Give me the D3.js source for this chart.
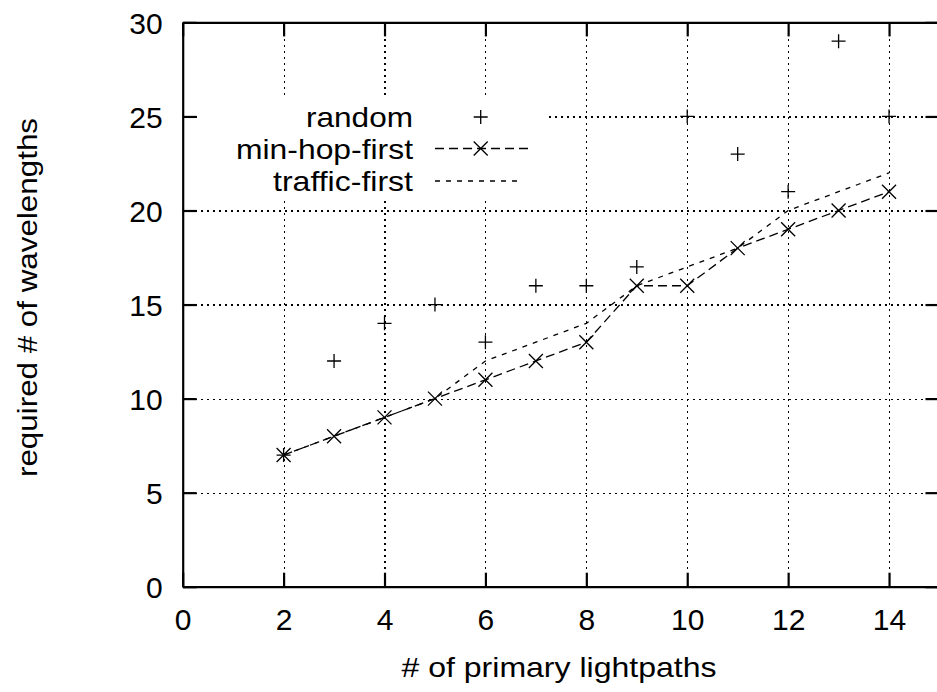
<!DOCTYPE html>
<html>
<head>
<meta charset="utf-8">
<script src="https://cdn.jsdelivr.net/npm/d3@7"></script>
<style>
  html, body { margin: 0; padding: 0; background: #fff; }
  svg { display: block; }
  text { font-family: "Liberation Sans", Arial, Helvetica, sans-serif; fill: #000; }
</style>
</head>
<body>
<svg id="chart" width="937" height="692"></svg>
<script>
// x: number of primary lightpaths
const lightpaths = [2, 3, 4, 5, 6, 7, 8, 9, 10, 11, 12, 13, 14];
// required number of wavelengths per heuristic
const randomVals      = [7, 12, 14, 15, 13, 16, 16, 17, 25, 23, 21, 29, 25];
const minHopFirstVals = [7, 8, 9, 10, 11, 12, 13, 16, 16, 18, 19, 20, 21];
const trafficFirstVals = [7, 8, 9, 10, 12, 13, 14, 16, 17, 18, 20, 21, 22];

const xTicks = [0, 2, 4, 6, 8, 10, 12, 14];
const yTicks = [0, 5, 10, 15, 20, 25, 30];
const seriesNames = ["random", "min-hop-first", "traffic-first"];

const svg = d3.select("#chart");
const plotLeft = 182.7, plotRight = 939.5, plotTop = 22.4, plotBottom = 586.7;

const x = d3.scaleLinear().domain([0, 15]).range([plotLeft, plotRight]);
const y = d3.scaleLinear().domain([0, 30]).range([plotBottom, plotTop]);

// dotted grid
const grid = svg.append("g").attr("class", "grid");
grid.append("g")
  .attr("transform", `translate(0,${plotBottom})`)
  .call(d3.axisBottom(x).tickValues(xTicks.filter(d => d > 0)).tickSize(-(plotBottom - plotTop)).tickFormat(""))
  .call(g => g.select(".domain").remove());
grid.append("g")
  .attr("transform", `translate(${plotLeft},0)`)
  .call(d3.axisLeft(y).tickValues(yTicks.filter(d => d > 0 && d < 30)).tickSize(-(plotRight - plotLeft)).tickFormat(""))
  .call(g => g.select(".domain").remove());
grid.selectAll("line")
  .attr("stroke", "#000").attr("stroke-width", 1.1)
  .attr("stroke-dasharray", "2,4").attr("shape-rendering", "crispEdges");

// key area clears the grid behind it
svg.append("rect")
  .attr("x", 200).attr("y", 99).attr("width", 347).attr("height", 101)
  .attr("fill", "#fff");

// border and tick marks (inward, mirrored on top and right)
const tickLen = 14;
const axes = svg.append("g").attr("class", "axes");
const xb = axes.append("g").attr("transform", `translate(0,${plotBottom})`)
  .call(d3.axisBottom(x).tickValues(xTicks).tickSize(-tickLen).tickSizeOuter(0).tickPadding(22));
axes.append("g").attr("transform", `translate(0,${plotTop})`)
  .call(d3.axisTop(x).tickValues(xTicks).tickSize(-tickLen).tickSizeOuter(0).tickFormat(""));
const yl = axes.append("g").attr("transform", `translate(${plotLeft},0)`)
  .call(d3.axisLeft(y).tickValues(yTicks).tickSize(-tickLen).tickSizeOuter(0).tickPadding(20));
axes.append("g").attr("transform", `translate(${plotRight},0)`)
  .call(d3.axisRight(y).tickValues(yTicks).tickSize(-tickLen).tickSizeOuter(0).tickFormat(""));
axes.selectAll(".domain").attr("stroke", "#000").attr("stroke-width", 2.2);
axes.selectAll(".tick line").attr("stroke", "#000").attr("stroke-width", 2.2);
axes.selectAll(".tick text")
  .attr("font-family", "'Liberation Sans', Arial, sans-serif")
  .attr("font-size", 30).attr("fill", "#000");
xb.selectAll(".tick text").attr("dy", "0.72em");
yl.selectAll(".tick text").attr("dy", "0.36em");

// axis titles
svg.append("text")
  .attr("x", 559).attr("y", 677)
  .attr("text-anchor", "middle").attr("font-size", 28)
  .attr("textLength", 315).attr("lengthAdjust", "spacingAndGlyphs")
  .text("# of primary lightpaths");
svg.append("text")
  .attr("transform", "translate(37,297.5) rotate(-90)")
  .attr("text-anchor", "middle").attr("font-size", 28)
  .attr("textLength", 359).attr("lengthAdjust", "spacingAndGlyphs")
  .text("required # of wavelengths");

// series lines
const pts = vals => lightpaths.map((d, i) => [x(d), y(vals[i])]);
const line = d3.line();
svg.append("path")
  .attr("d", line(pts(trafficFirstVals)))
  .attr("fill", "none").attr("stroke", "#000").attr("stroke-width", 1.3)
  .attr("stroke-dasharray", "5,6");
svg.append("path")
  .attr("d", line(pts(minHopFirstVals)))
  .attr("fill", "none").attr("stroke", "#000").attr("stroke-width", 1.3)
  .attr("stroke-dasharray", "9,5");

// point symbols
const ms = 7;
const plusPath = (cx, cy) => `M${cx - ms},${cy}H${cx + ms}M${cx},${cy - ms}V${cy + ms}`;
const crossPath = (cx, cy) => `M${cx - ms},${cy - ms}L${cx + ms},${cy + ms}M${cx - ms},${cy + ms}L${cx + ms},${cy - ms}`;
svg.append("g").selectAll("path")
  .data(pts(randomVals)).join("path")
  .attr("d", d => plusPath(d[0], d[1]))
  .attr("stroke", "#000").attr("stroke-width", 1.3).attr("fill", "none");
svg.append("g").selectAll("path")
  .data(pts(minHopFirstVals)).join("path")
  .attr("d", d => crossPath(d[0], d[1]))
  .attr("stroke", "#000").attr("stroke-width", 1.3).attr("fill", "none");

// key
const keyRows = [117, 148.5, 181];
const keyLens = [107, 177, 140];
const key = svg.append("g");
seriesNames.forEach((name, i) => {
  key.append("text")
    .attr("x", 413).attr("y", keyRows[i]).attr("dy", "0.36em")
    .attr("text-anchor", "end").attr("font-size", 28)
    .attr("textLength", keyLens[i]).attr("lengthAdjust", "spacingAndGlyphs")
    .text(name);
});
key.append("path").attr("d", plusPath(480.7, keyRows[0]))
  .attr("stroke", "#000").attr("stroke-width", 1.3);
key.append("line")
  .attr("x1", 435).attr("x2", 528).attr("y1", keyRows[1]).attr("y2", keyRows[1])
  .attr("stroke", "#000").attr("stroke-width", 1.3).attr("stroke-dasharray", "9,5");
key.append("path").attr("d", crossPath(480.7, keyRows[1]))
  .attr("stroke", "#000").attr("stroke-width", 1.3);
key.append("line")
  .attr("x1", 435).attr("x2", 521).attr("y1", keyRows[2]).attr("y2", keyRows[2])
  .attr("stroke", "#000").attr("stroke-width", 1.3).attr("stroke-dasharray", "5,6");
</script>
</body>
</html>
